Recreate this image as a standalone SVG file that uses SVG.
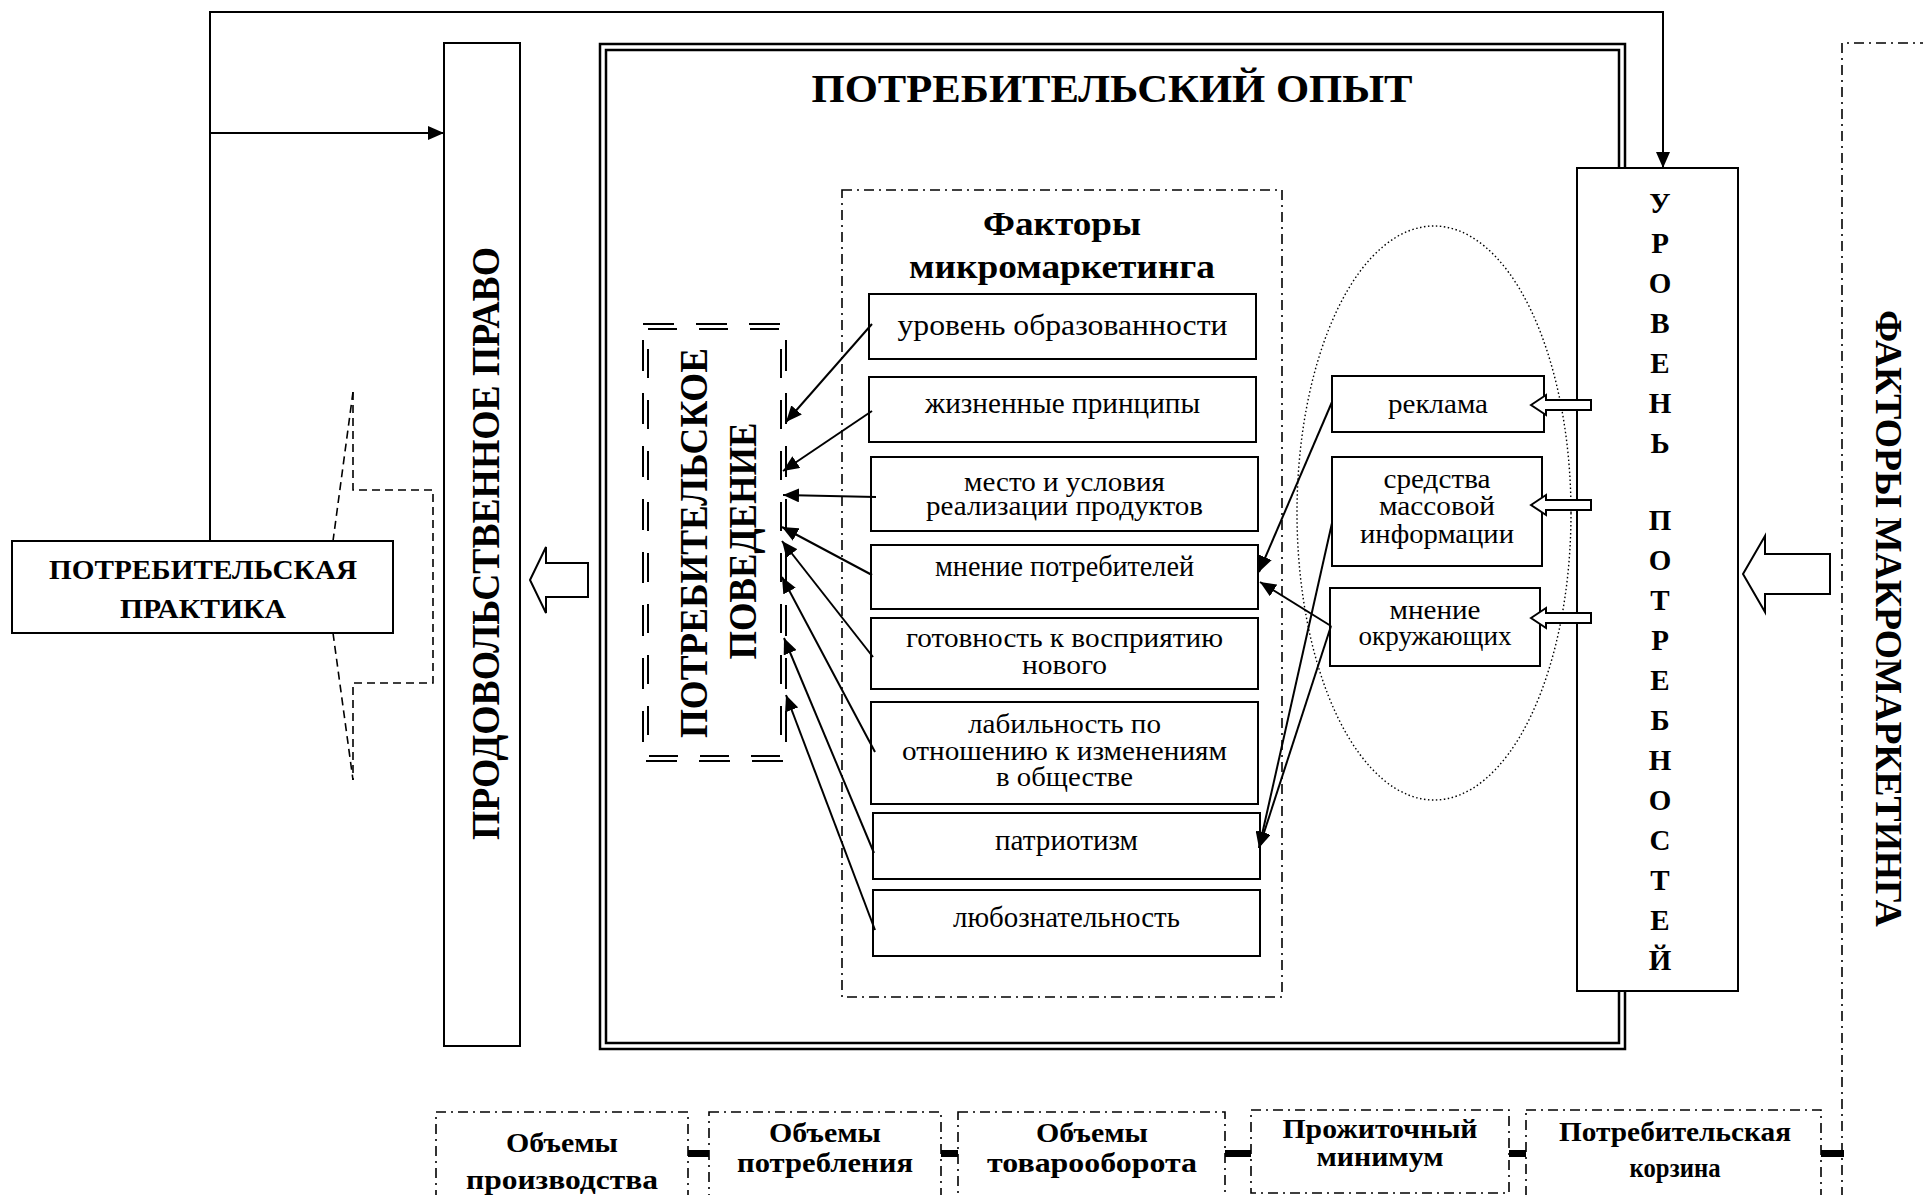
<svg xmlns="http://www.w3.org/2000/svg" width="1923" height="1195" viewBox="0 0 1923 1195">
<style>
text{font-family:"Liberation Serif","Times New Roman",serif;fill:#000}
.b{font-weight:bold}
.box{fill:#fff;stroke:#000;stroke-width:2}
.ln{fill:none;stroke:#000;stroke-width:2}
.dd{fill:none;stroke:#000;stroke-width:1.6;stroke-dasharray:10 5 2 5}
.hol{fill:#fff;stroke:#000;stroke-width:2;stroke-linejoin:miter}
.ft{font-size:29px}
.fm{font-size:27px}
.st{font-size:27px}
.bt{font-size:27px;font-weight:bold}
.lv{font-size:29px;font-weight:bold}
</style>
<defs>
<marker id="ah" markerUnits="userSpaceOnUse" markerWidth="18" markerHeight="14" refX="16" refY="7" orient="auto">
<path d="M0,0 L16,7 L0,14 z" fill="#000"/>
</marker>
</defs>
<rect width="1923" height="1195" fill="#fff"/>

<g id="macro-factors">
<path class="dd" d="M1930,43 H1842 V1200"/>
<text class="b" font-size="38" transform="translate(1876,618.5) rotate(90)" text-anchor="middle" textLength="617" lengthAdjust="spacingAndGlyphs">ФАКТОРЫ МАКРОМАРКЕТИНГА</text>
</g>

<g id="experience">
<rect x="600" y="44" width="1025" height="1005" fill="none" stroke="#000" stroke-width="2.5"/>
<rect x="606" y="50" width="1013" height="993" fill="none" stroke="#000" stroke-width="2.5"/>
<text class="b" x="1112" y="102" font-size="41" text-anchor="middle" textLength="601" lengthAdjust="spacingAndGlyphs">ПОТРЕБИТЕЛЬСКИЙ ОПЫТ</text>
</g>

<g id="food-law">
<rect class="box" x="444" y="43" width="76" height="1003"/>
<text class="b" font-size="40" transform="translate(499,543.5) rotate(-90)" text-anchor="middle" textLength="593" lengthAdjust="spacingAndGlyphs">ПРОДОВОЛЬСТВЕННОЕ ПРАВО</text>
</g>

<g id="practice">
<rect class="box" x="12" y="541" width="381" height="92"/>
<text class="b" x="203" y="579" font-size="28" text-anchor="middle" textLength="308" lengthAdjust="spacingAndGlyphs">ПОТРЕБИТЕЛЬСКАЯ</text>
<text class="b" x="203" y="618" font-size="28" text-anchor="middle" textLength="166" lengthAdjust="spacingAndGlyphs">ПРАКТИКА</text>
</g>

<g id="practice-callout" fill="none" stroke="#000" stroke-width="1.6" stroke-dasharray="8 5">
<path d="M353,392 V490 H433 V683 H353 V780"/>
<path d="M353,392 L333,541"/>
<path d="M333,633 L353,780"/>
</g>

<g id="behavior">
<rect x="643" y="324" width="143" height="437" fill="none" stroke="#000" stroke-width="2" stroke-dasharray="31 22"/>
<rect x="648" y="329" width="133" height="427" fill="none" stroke="#000" stroke-width="2" stroke-dasharray="29 22"/>
<text class="b" font-size="40" transform="translate(707,543) rotate(-90)" text-anchor="middle" textLength="390" lengthAdjust="spacingAndGlyphs">ПОТРЕБИТЕЛЬСКОЕ</text>
<text class="b" font-size="40" transform="translate(756,541) rotate(-90)" text-anchor="middle" textLength="237" lengthAdjust="spacingAndGlyphs">ПОВЕДЕНИЕ</text>
</g>

<g id="micro-factors">
<rect class="dd" x="842" y="190" width="440" height="807"/>
<text class="b" x="1062" y="235" font-size="34" text-anchor="middle" textLength="158" lengthAdjust="spacingAndGlyphs">Факторы</text>
<text class="b" x="1062" y="278" font-size="34" text-anchor="middle" textLength="306" lengthAdjust="spacingAndGlyphs">микромаркетинга</text>
</g>

<g id="f1"><rect class="box" x="869" y="294" width="387" height="65"/>
<text class="ft" x="1062.5" y="335" text-anchor="middle" textLength="330" lengthAdjust="spacingAndGlyphs">уровень образованности</text></g>
<g id="f2"><rect class="box" x="869" y="377" width="387" height="65"/>
<text class="ft" x="1062.5" y="413" text-anchor="middle" textLength="275" lengthAdjust="spacingAndGlyphs">жизненные принципы</text></g>
<g id="f3"><rect class="box" x="871" y="457" width="387" height="74"/>
<text class="fm" x="1064.5" y="491" text-anchor="middle" textLength="201" lengthAdjust="spacingAndGlyphs">место и условия</text>
<text class="fm" x="1064.5" y="515" text-anchor="middle" textLength="277" lengthAdjust="spacingAndGlyphs">реализации продуктов</text></g>
<g id="f4"><rect class="box" x="871" y="545" width="387" height="64"/>
<text class="ft" x="1064.5" y="576" text-anchor="middle" textLength="259" lengthAdjust="spacingAndGlyphs">мнение потребителей</text></g>
<g id="f5"><rect class="box" x="871" y="618" width="387" height="71"/>
<text class="fm" x="1064.5" y="647" text-anchor="middle" textLength="317" lengthAdjust="spacingAndGlyphs">готовность к восприятию</text>
<text class="fm" x="1064.5" y="674" text-anchor="middle" textLength="85" lengthAdjust="spacingAndGlyphs">нового</text></g>
<g id="f6"><rect class="box" x="871" y="702" width="387" height="102"/>
<text class="fm" x="1064.5" y="733" text-anchor="middle" textLength="193" lengthAdjust="spacingAndGlyphs">лабильность по</text>
<text class="fm" x="1064.5" y="760" text-anchor="middle" textLength="325" lengthAdjust="spacingAndGlyphs">отношению к изменениям</text>
<text class="fm" x="1064.5" y="786" text-anchor="middle" textLength="137" lengthAdjust="spacingAndGlyphs">в обществе</text></g>
<g id="f7"><rect class="box" x="873" y="813" width="387" height="66"/>
<text class="ft" x="1066.5" y="850" text-anchor="middle" textLength="143" lengthAdjust="spacingAndGlyphs">патриотизм</text></g>
<g id="f8"><rect class="box" x="873" y="890" width="387" height="66"/>
<text class="ft" x="1066.5" y="927" text-anchor="middle" textLength="227" lengthAdjust="spacingAndGlyphs">любознательность</text></g>

<g id="social-ellipse">
<ellipse cx="1434" cy="513" rx="137" ry="287" fill="none" stroke="#000" stroke-width="1.4" stroke-dasharray="1.5 2.5"/>
</g>

<g id="s1"><rect class="box" x="1332" y="376" width="212" height="56"/>
<text class="st" x="1438" y="413" text-anchor="middle" textLength="100" lengthAdjust="spacingAndGlyphs">реклама</text></g>
<g id="s2"><rect class="box" x="1332" y="457" width="210" height="109"/>
<text class="st" x="1437" y="488" text-anchor="middle" textLength="107" lengthAdjust="spacingAndGlyphs">средства</text>
<text class="st" x="1437" y="515" text-anchor="middle" textLength="116" lengthAdjust="spacingAndGlyphs">массовой</text>
<text class="st" x="1437" y="543" text-anchor="middle" textLength="154" lengthAdjust="spacingAndGlyphs">информации</text></g>
<g id="s3"><rect class="box" x="1330" y="588" width="210" height="78"/>
<text class="st" x="1435" y="619" text-anchor="middle" textLength="91" lengthAdjust="spacingAndGlyphs">мнение</text>
<text class="st" x="1435" y="645" text-anchor="middle" textLength="153" lengthAdjust="spacingAndGlyphs">окружающих</text></g>

<g id="needs">
<rect class="box" x="1577" y="168" width="161" height="823"/>
<g class="lv" text-anchor="middle">
<text x="1660" y="213">У</text><text x="1660" y="253">Р</text><text x="1660" y="293">О</text><text x="1660" y="333">В</text><text x="1660" y="373">Е</text><text x="1660" y="413">Н</text><text x="1660" y="453">Ь</text>
<text x="1660" y="530">П</text><text x="1660" y="570">О</text><text x="1660" y="610">Т</text><text x="1660" y="650">Р</text><text x="1660" y="690">Е</text><text x="1660" y="730">Б</text><text x="1660" y="770">Н</text><text x="1660" y="810">О</text><text x="1660" y="850">С</text><text x="1660" y="890">Т</text><text x="1660" y="930">Е</text><text x="1660" y="970">Й</text>
</g>
</g>

<g id="b1"><rect class="dd" x="436" y="1112" width="252" height="100"/>
<text class="bt" x="562" y="1152" text-anchor="middle" textLength="112" lengthAdjust="spacingAndGlyphs">Объемы</text>
<text class="bt" x="562" y="1189" text-anchor="middle" textLength="192" lengthAdjust="spacingAndGlyphs">производства</text></g>
<g id="b2"><rect class="dd" x="709" y="1112" width="232" height="100"/>
<text class="bt" x="825" y="1142" text-anchor="middle" textLength="112" lengthAdjust="spacingAndGlyphs">Объемы</text>
<text class="bt" x="825" y="1172" text-anchor="middle" textLength="176" lengthAdjust="spacingAndGlyphs">потребления</text></g>
<g id="b3"><rect class="dd" x="958" y="1112" width="267" height="100"/>
<text class="bt" x="1092" y="1142" text-anchor="middle" textLength="112" lengthAdjust="spacingAndGlyphs">Объемы</text>
<text class="bt" x="1092" y="1172" text-anchor="middle" textLength="210" lengthAdjust="spacingAndGlyphs">товарооборота</text></g>
<g id="b4"><rect class="dd" x="1251" y="1110" width="258" height="83"/>
<text class="bt" x="1380" y="1138" text-anchor="middle" textLength="195" lengthAdjust="spacingAndGlyphs">Прожиточный</text>
<text class="bt" x="1380" y="1166" text-anchor="middle" textLength="127" lengthAdjust="spacingAndGlyphs">минимум</text></g>
<g id="b5"><rect class="dd" x="1526" y="1110" width="295" height="100"/>
<text class="bt" x="1675" y="1141" text-anchor="middle" textLength="232" lengthAdjust="spacingAndGlyphs">Потребительская</text>
<text class="bt" x="1675" y="1177" text-anchor="middle" textLength="91" lengthAdjust="spacingAndGlyphs">корзина</text></g>

<g id="connectors">
<polyline class="ln" points="210,541 210,12 1663,12 1663,168" marker-end="url(#ah)"/>
<line class="ln" x1="210" y1="133" x2="444" y2="133" marker-end="url(#ah)"/>
<g stroke="#000" stroke-width="2" marker-end="url(#ah)">
<line x1="872" y1="324" x2="786" y2="422"/>
<line x1="872" y1="411" x2="783" y2="471"/>
<line x1="876" y1="497" x2="783" y2="495"/>
<line x1="872" y1="575" x2="782" y2="527"/>
<line x1="873" y1="657" x2="782" y2="541"/>
<line x1="875" y1="752" x2="782" y2="577"/>
<line x1="874" y1="853" x2="784" y2="638"/>
<line x1="875" y1="930" x2="786" y2="695"/>
<line x1="1332" y1="402" x2="1259" y2="572"/>
<line x1="1331" y1="626" x2="1260" y2="582"/>
<line x1="1332" y1="523" x2="1259" y2="848"/>
<line x1="1331" y1="626" x2="1259" y2="848"/>
</g>
<path class="hol" d="M1531,405 L1546,395 L1546,400 L1591,400 L1591,410 L1546,410 L1546,415 Z"/>
<path class="hol" d="M1531,505 L1546,495 L1546,500 L1591,500 L1591,510 L1546,510 L1546,515 Z"/>
<path class="hol" d="M1531,618 L1546,608 L1546,613 L1591,613 L1591,623 L1546,623 L1546,628 Z"/>
<path class="hol" d="M1743,574 L1765,536 L1765,554 L1830,554 L1830,594 L1765,594 L1765,612 Z"/>
<path class="hol" d="M530,580 L546,547 L546,563 L588,563 L588,597 L546,597 L546,613 Z"/>
<g fill="#000">
<rect x="688" y="1150" width="21" height="7"/>
<rect x="941" y="1150" width="17" height="7"/>
<rect x="1225" y="1150" width="26" height="7"/>
<rect x="1509" y="1150" width="17" height="7"/>
<rect x="1821" y="1150" width="23" height="7"/>
</g>
</g>
</svg>
